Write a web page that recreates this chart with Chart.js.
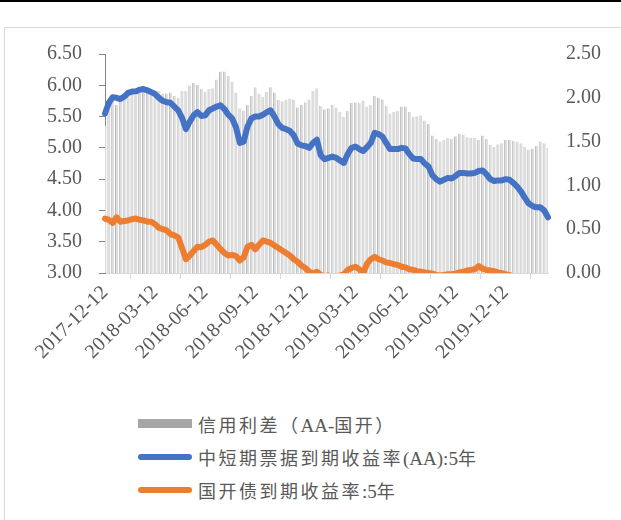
<!DOCTYPE html>
<html>
<head>
<meta charset="utf-8">
<script src="https://cdn.jsdelivr.net/npm/chart.js@4.4.1/dist/chart.umd.min.js"></script>
<style>
  body { margin: 0; width: 621px; height: 520px; background: #fff; position: relative; overflow: hidden; }
  #topLine { position: absolute; left: 0; top: 0; width: 621px; height: 2px; background: #000; }
  #frame { position: absolute; left: 4px; top: 27px; width: 640px; height: 520px; border: 1px solid #d9d9d9; }
  #wrap { position: absolute; left: 0; top: 25px; width: 621px; height: 375px; }
  #legend { position: absolute; left: 138px; top: 407px; font-family: "Liberation Serif", "Noto Sans CJK SC", serif; font-size: 18px; color: #595959; }
  .item { height: 33px; display: flex; align-items: center; letter-spacing: 2.5px; }
  .item .lat { letter-spacing: 0; font-size: 19px; }
  .swatch { width: 54px; margin-right: 6px; }
</style>
</head>
<body>
<div id="topLine"></div>
<div id="frame"></div>
<div id="wrap"><canvas id="grafico"></canvas></div>
<div id="legend"></div>

<script>
// etiquetas del eje x (una cada 13 semanas)
const tickLabels = ['2017-12-12', '2018-03-12', '2018-06-12', '2018-09-12', '2018-12-12',
  '2019-03-12', '2019-06-12', '2019-09-12', '2019-12-12'];
const TICK_STEP = 13;

// series (datos semanales)
const aaYield = [
  5.55, 5.72, 5.81, 5.80, 5.78, 5.82, 5.88, 5.90, 5.90, 5.93, 5.94, 5.92, 5.89,
  5.86, 5.80, 5.75, 5.73, 5.72, 5.66, 5.60, 5.48, 5.30, 5.42, 5.52, 5.57, 5.51,
  5.52, 5.60, 5.63, 5.66, 5.68, 5.62, 5.53, 5.47, 5.33, 5.08, 5.10, 5.34, 5.47,
  5.50, 5.50, 5.53, 5.57, 5.60, 5.50, 5.38, 5.32, 5.30, 5.27, 5.20, 5.07, 5.04,
  5.03, 5.00, 5.08, 5.13, 4.88, 4.82, 4.84, 4.86, 4.84, 4.80, 4.76, 4.90, 5.00,
  5.02, 4.98, 4.95, 5.01, 5.08, 5.24, 5.22, 5.18, 5.08, 4.98, 4.98, 4.98, 5.00,
  4.99, 4.90, 4.83, 4.82, 4.82, 4.75, 4.70, 4.56, 4.50, 4.46, 4.49, 4.52, 4.51,
  4.55, 4.60, 4.60, 4.59, 4.59, 4.60, 4.63, 4.64, 4.58, 4.50, 4.47, 4.48, 4.48,
  4.50, 4.49, 4.44, 4.38, 4.30, 4.20, 4.11, 4.07, 4.05, 4.05, 4.00, 3.89
];

const cdbYield = [
  3.87, 3.85, 3.80, 3.89, 3.82, 3.83, 3.84, 3.86, 3.87, 3.85, 3.84, 3.82, 3.82,
  3.78, 3.72, 3.70, 3.68, 3.62, 3.60, 3.57, 3.40, 3.22, 3.28, 3.35, 3.42, 3.41,
  3.45, 3.50, 3.52, 3.45, 3.38, 3.32, 3.28, 3.29, 3.27, 3.20, 3.25, 3.42, 3.45,
  3.38, 3.45, 3.52, 3.50, 3.48, 3.44, 3.40, 3.36, 3.32, 3.28, 3.22, 3.18, 3.12,
  3.08, 3.02, 3.00, 3.02, 2.97, 2.95, 2.96, 2.94, 2.95, 2.96, 2.98, 3.05, 3.08,
  3.10, 3.06, 2.99, 3.15, 3.22, 3.26, 3.22, 3.20, 3.17, 3.16, 3.14, 3.13, 3.10,
  3.09, 3.06, 3.05, 3.03, 3.02, 3.01, 3.00, 2.99, 2.97, 2.96, 2.97, 2.98, 2.98,
  2.99, 3.01, 3.02, 3.04, 3.05, 3.06, 3.11, 3.07, 3.05, 3.04, 3.03, 3.01, 3.00,
  2.98, 2.97, 2.93, 2.88, 2.82, 2.76, 2.70, 2.65, 2.60, 2.55, 2.52, 2.46
];

const spread = [
  1.68, 1.87, 2.00, 1.92, 1.96, 1.99, 2.04, 2.04, 2.03, 2.08, 2.10, 2.10, 2.07,
  2.08, 2.08, 2.05, 2.05, 2.06, 2.02, 2.00, 2.08, 2.08, 2.14, 2.17, 2.15, 2.10,
  2.07, 2.10, 2.11, 2.21, 2.30, 2.30, 2.25, 2.18, 2.06, 1.88, 1.85, 1.92, 2.02,
  2.12, 2.05, 2.01, 2.07, 2.12, 2.06, 1.98, 1.96, 1.98, 1.99, 1.98, 1.89, 1.92,
  1.95, 1.98, 2.08, 2.11, 1.91, 1.87, 1.88, 1.92, 1.89, 1.84, 1.78, 1.85, 1.94,
  1.95, 1.94, 1.97, 1.90, 1.92, 2.02, 2.00, 1.98, 1.91, 1.82, 1.84, 1.85, 1.90,
  1.90, 1.84, 1.78, 1.79, 1.80, 1.74, 1.70, 1.57, 1.53, 1.50, 1.52, 1.54, 1.53,
  1.56, 1.59, 1.58, 1.55, 1.54, 1.54, 1.52, 1.57, 1.53, 1.46, 1.44, 1.47, 1.48,
  1.52, 1.52, 1.51, 1.50, 1.48, 1.44, 1.41, 1.42, 1.45, 1.50, 1.48, 1.43
];

const seriesNames = ['信用利差（AA-国开）', '中短期票据到期收益率(AA):5年', '国开债到期收益率:5年'];
const GRIS = '#dcdcdc';
const AZUL = '#4472c4';
const NARANJA = '#ed7d31';
const TEXTO = '#595959';

// fechas semanales desde el 2017-12-12
const semanas = [];
for (let i = 0; i < aaYield.length; i++) {
  const d = new Date(Date.UTC(2017, 11, 12 + 7 * i));
  semanas.push(d.toISOString().slice(0, 10));
}

const fuenteEjes = { family: 'Liberation Serif', size: 20 };

const ctx = document.getElementById('grafico').getContext('2d');
const chart = new Chart(ctx, {
  data: {
    labels: semanas,
    datasets: [
      { type: 'line', label: seriesNames[1], data: aaYield, yAxisID: 'y', borderColor: AZUL,
        borderWidth: 6, pointRadius: 0, tension: 0, borderJoinStyle: 'round', borderCapStyle: 'round', order: 1 },
      { type: 'line', label: seriesNames[2], data: cdbYield, yAxisID: 'y', borderColor: NARANJA,
        borderWidth: 6, pointRadius: 0, tension: 0, borderJoinStyle: 'round', borderCapStyle: 'round', order: 2 },
      { type: 'bar', label: seriesNames[0], data: spread, yAxisID: 'y2', backgroundColor: GRIS,
        borderColor: '#b9b9b9', borderWidth: { left: 1, right: 0, top: 0, bottom: 0 },
        borderSkipped: false, categoryPercentage: 1, barPercentage: 0.8, order: 3 }
    ]
  },
  options: {
    responsive: true,
    maintainAspectRatio: false,
    animation: false,
    layout: { padding: { top: 4, left: 0, right: 0, bottom: 0 } },
    plugins: { legend: { display: false }, tooltip: { enabled: false } },
    scales: {
      x: {
        offset: false,
        grid: { display: true, drawOnChartArea: false, drawTicks: true, tickLength: 6, color: '#d9d9d9' },
        border: { display: true, color: '#d9d9d9' },
        afterBuildTicks: scale => { scale.ticks = scale.ticks.filter(t => t.value % TICK_STEP === 0); },
        afterFit: scale => { scale.height = 127; },
        ticks: {
          autoSkip: false, maxRotation: 45, minRotation: 45, padding: 2, color: TEXTO, font: fuenteEjes,
          callback: value => tickLabels[value / TICK_STEP]
        }
      },
      y: {
        position: 'left', min: 3, max: 6.5,
        grid: { display: true, drawOnChartArea: false, drawTicks: true, tickLength: 6, color: '#868686' },
        border: { display: true, color: '#868686' },
        afterFit: scale => { scale.width = 105; },
        ticks: { stepSize: 0.5, padding: 17, color: TEXTO, font: fuenteEjes, callback: v => v.toFixed(2) }
      },
      y2: {
        position: 'right', min: 0, max: 2.5,
        grid: { display: false },
        border: { display: false },
        afterFit: scale => { scale.width = 73; },
        ticks: { stepSize: 0.5, padding: 10, color: TEXTO, font: fuenteEjes, callback: v => v.toFixed(2) }
      }
    }
  }
});

// leyenda en HTML, una serie por renglón; el texto latino sin espaciado extra
const legendDiv = document.getElementById('legend');
const muestras = [
  '<div class="swatch" style="height:9px;background:#a6a6a6"></div>',
  '<div class="swatch" style="height:6px;border-radius:3px;background:' + AZUL + '"></div>',
  '<div class="swatch" style="height:6px;border-radius:3px;background:' + NARANJA + '"></div>'
];
seriesNames.forEach((nombre, i) => {
  const texto = nombre.replace(/[\x20-\x7e]+/g, m => '<span class="lat">' + m + '</span>');
  legendDiv.innerHTML += '<div class="item">' + muestras[i] + '<span>' + texto + '</span></div>';
});
</script>
</body>
</html>
